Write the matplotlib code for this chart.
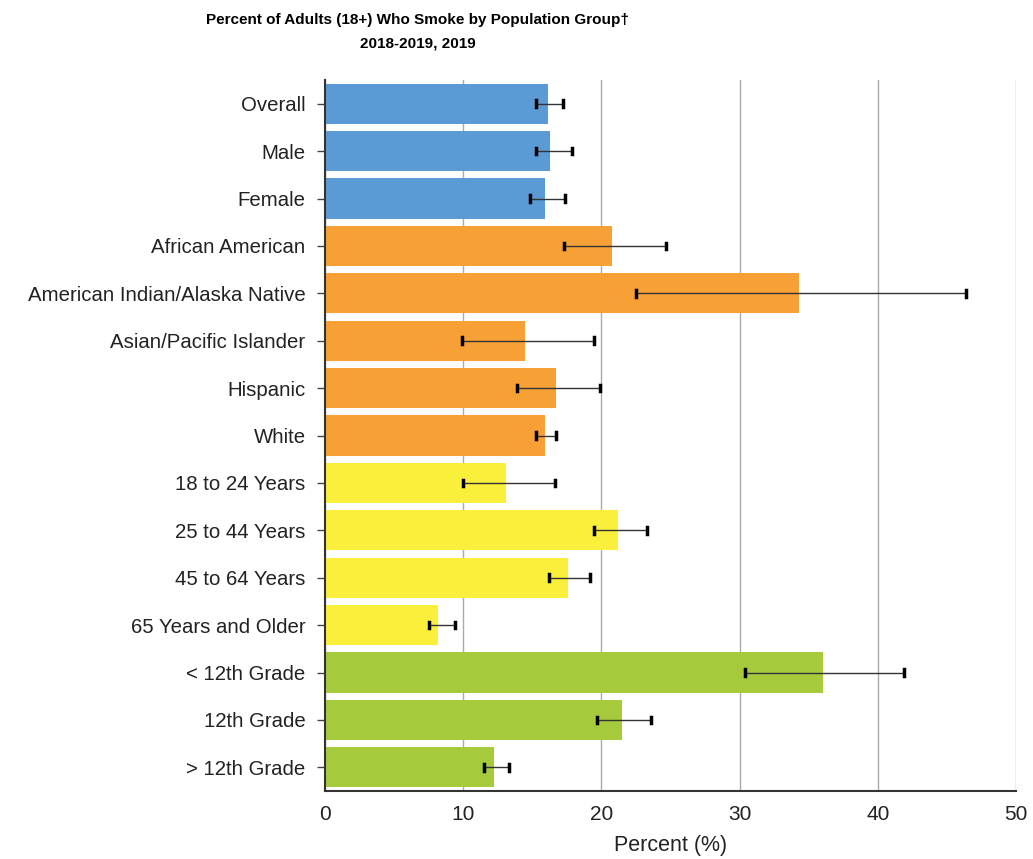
import matplotlib
matplotlib.use("Agg")
import matplotlib.pyplot as plt
import numpy as np

plt.rcParams["font.family"] = ["Liberation Sans", "DejaVu Sans"]

# data
groups = [
    "Overall", "Male", "Female",
    "African American", "American Indian/Alaska Native", "Asian/Pacific Islander",
    "Hispanic", "White",
    "18 to 24 Years", "25 to 44 Years", "45 to 64 Years", "65 Years and Older",
    "< 12th Grade", "12th Grade", "> 12th Grade",
]
percent = [16.1, 16.3, 15.9, 20.8, 34.3, 14.5, 16.7, 15.9, 13.1, 21.2, 17.6, 8.2, 36.0, 21.5, 12.2]
ci_low = [15.3, 15.3, 14.8, 17.3, 22.5, 9.9, 13.9, 15.3, 10.0, 19.5, 16.2, 7.5, 30.4, 19.7, 11.5]
ci_high = [17.2, 17.9, 17.4, 24.7, 46.4, 19.5, 19.9, 16.75, 16.65, 23.3, 19.2, 9.4, 41.9, 23.6, 13.3]
category = ["sex"] * 3 + ["race"] * 5 + ["age"] * 4 + ["edu"] * 3

colors = {"sex": "#5B9BD5", "race": "#F7A035", "age": "#FAF03C", "edu": "#A5CB3C"}

fig = plt.figure(figsize=(10.33, 8.59), dpi=100)
ax = fig.add_axes([325 / 1033, 1 - 791 / 859, (1016 - 325) / 1033, (791 - 80) / 859])

y = np.arange(len(groups))
ax.barh(y, percent, height=0.85, color=[colors[c] for c in category], zorder=2)

# error bars from CI ends (drawn as lines with small caps)
for yi, lo, hi in zip(y, ci_low, ci_high):
    ax.plot([lo, hi], [yi, yi], color="#333333", lw=1.0, zorder=3)
    ax.plot([lo, lo], [yi - 0.07, yi + 0.07], color="black", lw=2.5, zorder=3)
    ax.plot([hi, hi], [yi - 0.07, yi + 0.07], color="black", lw=2.5, zorder=3)

ax.set_xlim(0, 50)
ax.set_ylim(len(groups) - 0.5, -0.5)
ax.set_xticks(range(0, 51, 10))
ax.set_yticks(y)
ax.set_yticklabels(groups, fontsize=14.7, color="#222222")
ax.tick_params(axis="x", length=0, labelsize=15, pad=10, labelcolor="#222222")
ax.tick_params(axis="y", length=6, width=1, color="#444444", pad=8)
ax.xaxis.grid(True, color="#aaaaaa", lw=1, zorder=0)
ax.set_axisbelow(True)
for s in ["top", "right"]:
    ax.spines[s].set_visible(False)
ax.spines["left"].set_color("#333333")
ax.spines["bottom"].set_color("#333333")
ax.spines["left"].set_linewidth(1.5)
ax.spines["bottom"].set_linewidth(1.5)
ax.set_xlabel("Percent (%)", fontsize=15.5, color="#222222", labelpad=8)

fig.text(418 / 1033, 0.985, "Percent of Adults (18+) Who Smoke by Population Group\u2020\n2018-2019, 2019",
         fontsize=11, fontweight="bold", ha="center", va="top", linespacing=1.85)

fig.savefig("out.png", dpi=100)
